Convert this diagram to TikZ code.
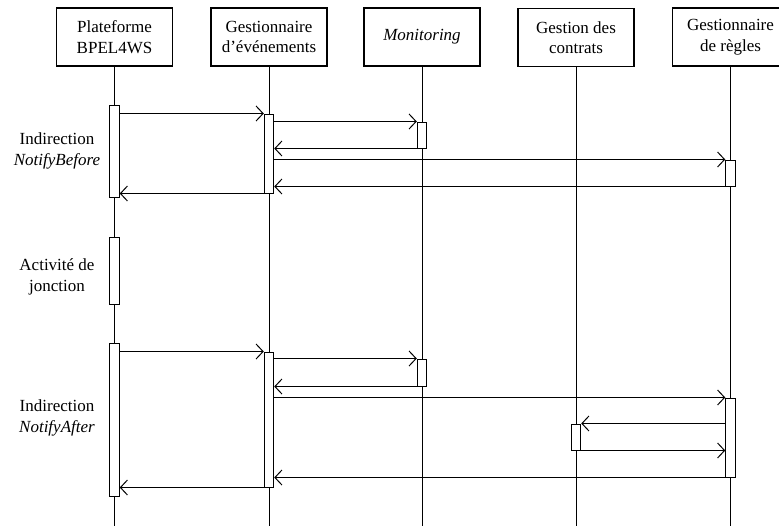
\documentclass[tikz,border=0pt]{standalone}
\usepackage{fontspec}
\setmainfont{Liberation Serif}
\usetikzlibrary{arrows.meta,positioning,calc}

\begin{document}
\begin{tikzpicture}[
            x=1pt, y=-1pt,
            every path/.style={line width=0.9pt},
            every node/.style={font=\fontsize{17}{20.5}\selectfont},
            head/.style={
                rectangle,
                draw,
                line width=1.2pt,
                align=center,
                inner sep=0pt,
                minimum width=116pt,
                minimum height=58pt
            },
            act/.style={
                rectangle,
                draw,
                fill=white,
                line width=1pt,
                inner sep=0pt,
                minimum width=9.5pt
            },
            note/.style={
                align=center
            },
            msg/.style={->, line width=1pt},
            >={Straight Barb[length=7pt,width=15pt]},
        ]

            \useasboundingbox (0,0) rectangle (779,525);
            \coordinate (bottom) at (0,530);

            % lifelines
            \node[head] (pbl) at (114.5,37) {Plateforme\\BPEL4WS};
            \node[head] (gev) at (269,37) {Gestionnaire\\d'événements};
            \node[head] (mon) at (422,37) {\textit{Monitoring}};
            \node[head] (gco) at (576,37.5) {Gestion des\\contrats};
            \node[head] (gre) at (730.5,37) {Gestionnaire\\de règles};

            \foreach \l in {pbl,gev,mon,gco,gre}
                \draw (\l.south) -- (\l.south |- bottom);

            % NotifyBefore
            \node[act, minimum height=92pt] (pb1) at (pbl.south |- 0,151) {};
            \node[act, minimum height=79pt] (ge1) at (gev.south |- 0,153.5) {};
            \node[act, minimum height=26pt] (mo1) at (mon.south |- 0,135) {};
            \node[act, minimum height=26pt] (re1) at (gre.south |- 0,173) {};

            \draw[msg] (pb1.east |- ge1.north) -- (ge1.north west);
            \draw[msg] (ge1.east |- mo1.north) -- (mo1.north west);
            \draw[msg] (mo1.south west) -- (ge1.east |- mo1.south);
            \draw[msg] (ge1.east |- re1.north) -- (re1.north west);
            \draw[msg] (re1.south west) -- (ge1.east |- re1.south);
            \draw[msg] (ge1.south west) -- (pb1.east |- ge1.south);

            \node[note] (nb) at (57,151) {Indirection\\\textit{NotifyBefore}};

            % jonction
            \node[act, minimum height=67pt] (pb2) at (pbl.south |- 0,270.5) {};
            \node[note] (jc) at (57,277) {Activité de\\jonction};

            % NotifyAfter
            \node[act, minimum height=153pt] (pb3) at (pbl.south |- 0,419.5) {};
            \node[act, minimum height=135pt] (ge2) at (gev.south |- 0,419.5) {};
            \node[act, minimum height=27pt] (mo2) at (mon.south |- 0,372.5) {};
            \node[act, minimum height=79pt] (re2) at (gre.south |- 0,437.5) {};
            \node[act, minimum height=26pt] (co1) at (gco.south |- 0,437) {};

            \draw[msg] (pb3.east |- ge2.north) -- (ge2.north west);
            \draw[msg] (ge2.east |- mo2.north) -- (mo2.north west);
            \draw[msg] (mo2.south west) -- (ge2.east |- mo2.south);
            \draw[msg] (ge2.east |- re2.north) -- (re2.north west);
            \draw[msg] (re2.west |- co1.north) -- (co1.north east);
            \draw[msg] (co1.south east) -- (re2.west |- co1.south);
            \draw[msg] (re2.south west) -- (ge2.east |- re2.south);
            \draw[msg] (ge2.south west) -- (pb3.east |- ge2.south);

            \node[note] (na) at (57,418) {Indirection\\\textit{NotifyAfter}};

        \end{tikzpicture}
\end{document}
